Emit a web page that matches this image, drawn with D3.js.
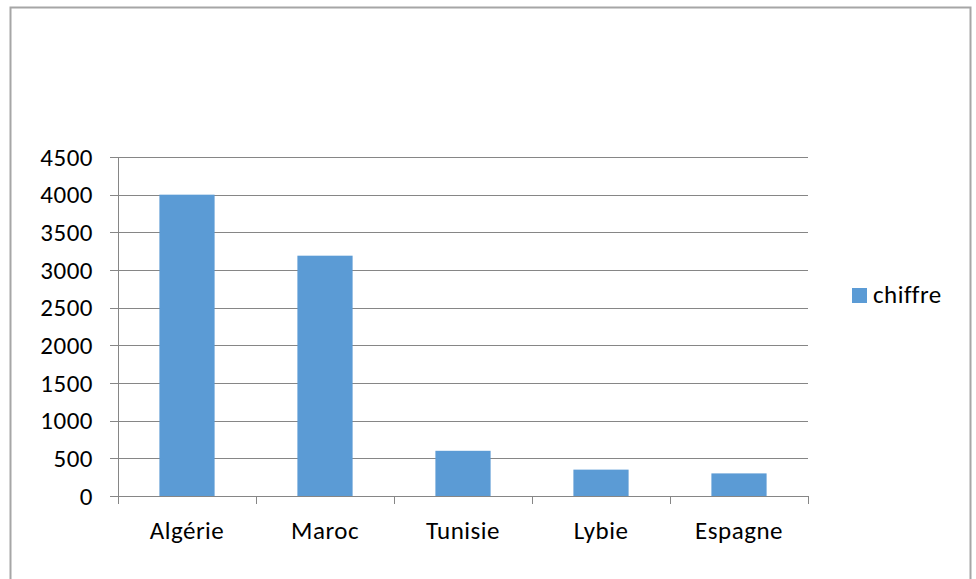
<!DOCTYPE html>
<html>
<head>
<meta charset="utf-8">
<script src="https://cdn.jsdelivr.net/npm/d3@7"></script>
<style>
  body { margin: 0; background: #fff; }
  text { font-family: Carlito, Calibri, Lato, sans-serif; fill: #000; letter-spacing: 0.5px; }
</style>
</head>
<body>
<div id="chart"></div>
<script>
const categories = ['Algérie', 'Maroc', 'Tunisie', 'Lybie', 'Espagne']
const chiffre = [4000, 3190, 600, 350, 300]
const yTicks = [0, 500, 1000, 1500, 2000, 2500, 3000, 3500, 4000, 4500]
const seriesName = 'chiffre'

const width = 976
const height = 579
const plot = { left: 118, right: 808, top: 157, bottom: 496 }
const fontSize = 25

const svg = d3.select('#chart').append('svg')
    .attr('width', width)
    .attr('height', height)

// chart frame (bottom edge is cut off in the original)
svg.append('path')
    .attr('d', 'M10.5,' + height + 'V7.5H970.5V' + height)
    .attr('fill', 'none')
    .attr('stroke', '#a6a6a6')
    .attr('stroke-width', 2)

const x = d3.scaleBand()
    .domain(categories)
    .range([plot.left, plot.right])
    .paddingInner(0.6)
    .paddingOuter(0.3)

const y = d3.scaleLinear()
    .domain([0, 4500])
    .range([plot.bottom, plot.top])

// gridlines
svg.append('g')
    .selectAll('line')
    .data(yTicks)
    .enter()
    .append('line')
    .attr('x1', plot.left - 8)
    .attr('x2', plot.right)
    .attr('y1', (d) => Math.round(y(d)) + 0.5)
    .attr('y2', (d) => Math.round(y(d)) + 0.5)
    .attr('stroke', '#868686')
    .attr('stroke-width', 1)

// y axis line
svg.append('line')
    .attr('x1', plot.left + 0.5)
    .attr('x2', plot.left + 0.5)
    .attr('y1', plot.top)
    .attr('y2', plot.bottom)
    .attr('stroke', '#868686')

// y tick labels
svg.append('g')
    .selectAll('text')
    .data(yTicks)
    .enter()
    .append('text')
    .attr('x', 93)
    .attr('y', (d) => y(d))
    .attr('dy', '0.35em')
    .attr('text-anchor', 'end')
    .attr('font-size', fontSize)
    .text((d) => d)

// bars
svg.append('g')
    .selectAll('rect')
    .data(chiffre)
    .enter()
    .append('rect')
    .attr('x', (d, i) => x(categories[i]))
    .attr('y', (d) => y(d))
    .attr('width', x.bandwidth())
    .attr('height', (d) => y(0) - y(d))
    .attr('fill', '#5b9bd5')

// category ticks at band boundaries
const bounds = d3.range(categories.length + 1).map((i) => plot.left + i * (plot.right - plot.left) / categories.length)
svg.append('g')
    .selectAll('line')
    .data(bounds)
    .enter()
    .append('line')
    .attr('x1', (d) => Math.round(d) + 0.5)
    .attr('x2', (d) => Math.round(d) + 0.5)
    .attr('y1', plot.bottom)
    .attr('y2', plot.bottom + 8)
    .attr('stroke', '#868686')

// category labels
svg.append('g')
    .selectAll('text')
    .data(categories)
    .enter()
    .append('text')
    .attr('x', (d) => x(d) + x.bandwidth() / 2)
    .attr('y', 539)
    .attr('text-anchor', 'middle')
    .attr('font-size', fontSize)
    .text((d) => d)

// legend
const legend = svg.append('g').attr('transform', 'translate(852,288)')
legend.append('rect')
    .attr('width', 15)
    .attr('height', 15)
    .attr('fill', '#5b9bd5')
legend.append('text')
    .attr('x', 21)
    .attr('y', 15)
    .attr('font-size', fontSize)
    .text(seriesName)
</script>
</body>
</html>
